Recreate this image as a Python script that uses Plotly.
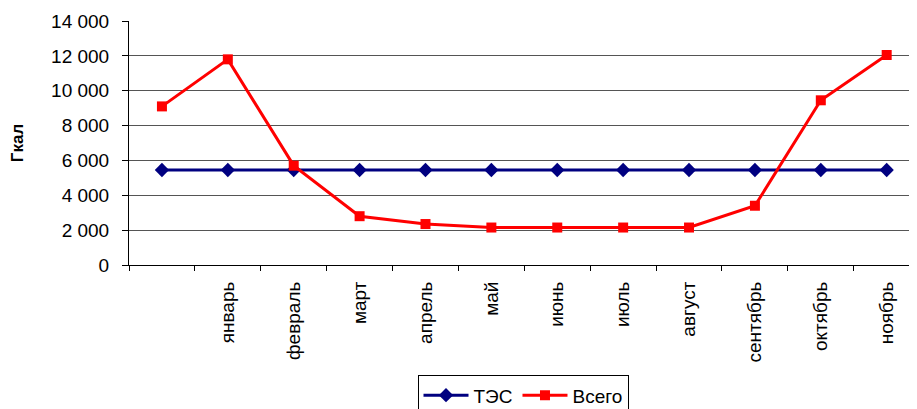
import plotly.graph_objects as go

months = ["", "январь", "февраль", "март", "апрель", "май", "июнь",
          "июль", "август", "сентябрь", "октябрь", "ноябрь"]
tes = [5450, 5450, 5450, 5450, 5450, 5450, 5450, 5450, 5450, 5450, 5450, 5450]
total = [9100, 11800, 5700, 2800, 2350, 2150, 2150, 2150, 2150, 3400, 9450, 12050]
y_ticks = [0, 2000, 4000, 6000, 8000, 10000, 12000, 14000]

cats = [m if m else " " for m in months]

fig = go.Figure()
fig.add_trace(go.Scatter(
    x=cats, y=tes, name="ТЭС", mode="lines+markers",
    line=dict(color="#000080", width=3),
    marker=dict(symbol="diamond", size=11, color="#000080"),
))
fig.add_trace(go.Scatter(
    x=cats, y=total, name="Всего", mode="lines+markers",
    line=dict(color="#ff0000", width=3),
    marker=dict(symbol="square", size=10, color="#ff0000"),
))

fig.update_layout(
    width=909, height=425,
    margin=dict(l=121, r=0, t=13, b=168),
    paper_bgcolor="white", plot_bgcolor="white",
    separators=", ",
    font=dict(family="Liberation Sans, Arial, sans-serif", size=19, color="black"),
    showlegend=True,
    legend=dict(
        orientation="h", x=0.5, xanchor="center", y=-0.452, yanchor="top",
        bordercolor="black", borderwidth=1, font=dict(size=19),
        itemwidth=45, tracegroupgap=0,
    ),
    xaxis=dict(
        type="category", categoryorder="array", categoryarray=cats,
        range=[-0.5, 11.46], tickson="boundaries",
        ticks="outside", ticklen=5, tickcolor="black",
        showline=True, linecolor="black", linewidth=1,
        showgrid=False, tickangle=-90, tickfont=dict(size=19),
        ticklabelstandoff=8, automargin=False,
    ),
    yaxis=dict(
        range=[0, 14000], tickvals=y_ticks, tickformat=",d",
        ticks="outside", ticklen=6, tickcolor="black",
        showline=True, linecolor="black", linewidth=1,
        showgrid=True, gridcolor="#555555", gridwidth=1,
        zeroline=False, tickfont=dict(size=19), ticklabelstandoff=9,
        title=dict(text="<b>Гкал</b>", font=dict(size=17), standoff=25),
        automargin=False,
    ),
)

fig.write_html("out.html")
